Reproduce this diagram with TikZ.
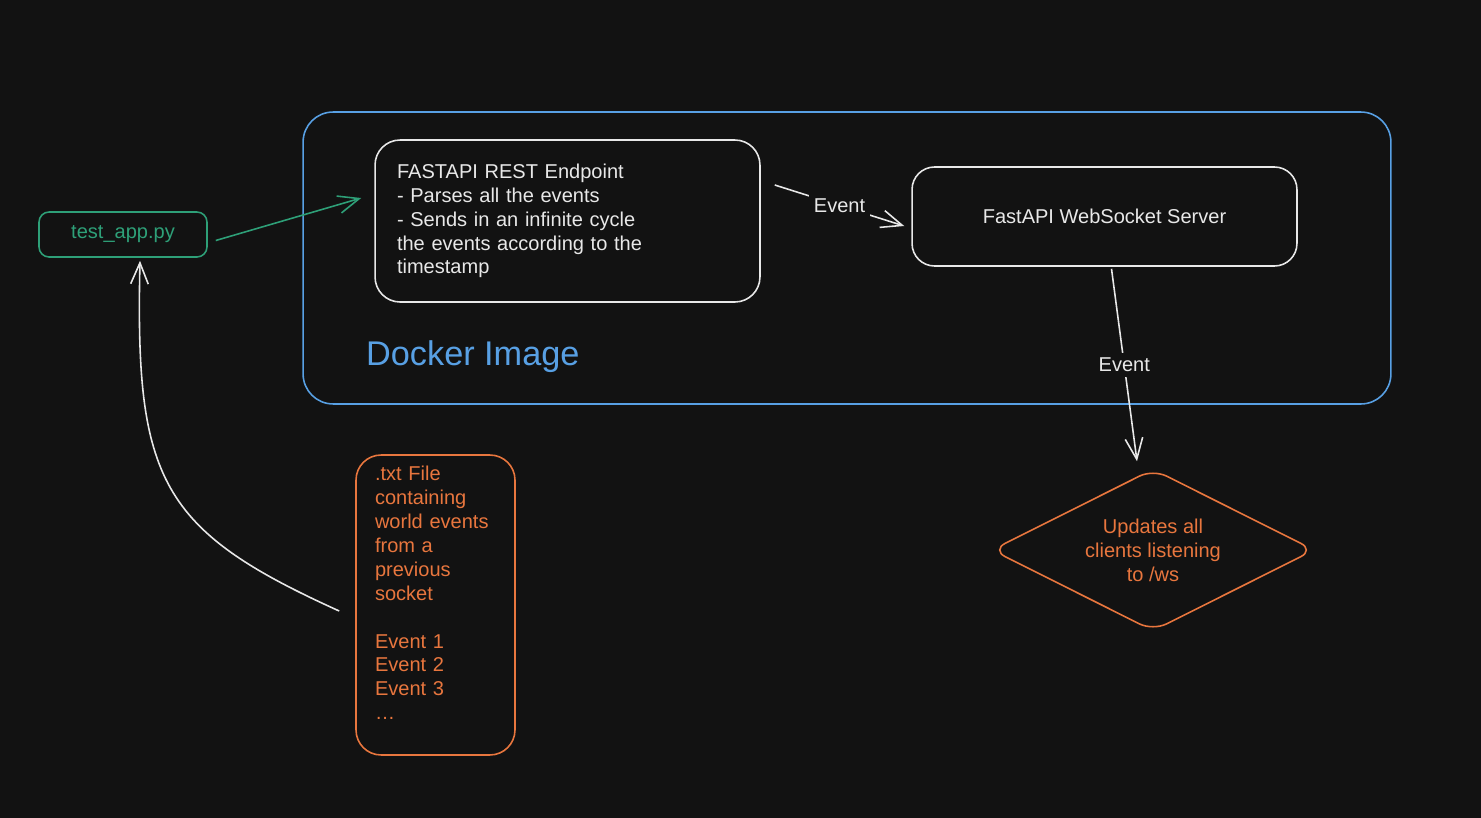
\documentclass[tikz,border=0pt]{standalone}
\usepackage{xcolor}
\usepackage{fontspec}
\setmainfont{Liberation Sans}
\usepackage{tikz}
\usetikzlibrary{positioning,calc,shapes.geometric,arrows.meta}
\definecolor{bgcol}{RGB}{18,18,18}
\definecolor{inkcol}{RGB}{232,232,232}
\definecolor{dockcol}{RGB}{88,160,228}
\definecolor{testcol}{RGB}{46,160,120}
\definecolor{filecol}{RGB}{232,118,62}

\begin{document}
\begin{tikzpicture}[x=0.02cm,y=-0.02cm,
  txt/.style={font=\fontsize{11.4}{13.6}\selectfont},
  box/.style={draw,rounded corners=0.5cm,line width=0.9pt,txt,inner sep=0pt},
  arr/.style={draw=inkcol,line width=0.9pt,-{Straight Barb[length=12pt,width=10pt]}},
  lbl/.style={txt,text=inkcol,fill=bgcol,inner sep=3pt}]
\fill[bgcol] (0,0) rectangle (1481,818);
\useasboundingbox (0,0) rectangle (1481,818);

\node[draw=dockcol,line width=0.9pt,rounded corners=0.6cm,minimum width=21.76cm,minimum height=5.84cm] (docker) at (847,258) {};
\node[anchor=west,text=dockcol,font=\fontsize{19.5}{23}\selectfont] (dockname) at (360,357) {Docker Image};

\node[box,draw=inkcol,text=inkcol,minimum width=7.7cm,minimum height=3.24cm,text width=6.82cm,align=left] (rest) at (567.5,221) {FASTAPI REST Endpoint\\- Parses all the events\\- Sends in an infinite cycle\\the events according to the\\timestamp};
\node[box,draw=inkcol,text=inkcol,rounded corners=0.45cm,minimum width=7.7cm,minimum height=1.98cm] (ws) at (1104.5,216.5) {FastAPI WebSocket Server};
\node[box,draw=testcol,text=testcol,rounded corners=0.2cm,minimum width=3.36cm,minimum height=0.9cm] (test) at (123,234.5) {test\_app.py};
\node[box,draw=filecol,text=filecol,minimum width=3.18cm,minimum height=6cm,text width=2.42cm,align=left] (file) at (435.5,605) {.txt File\\containing\\world events\\from a\\previous\\socket\\~\\Event 1\\Event 2\\Event 3\\\ldots\\~};
\node[diamond,draw=filecol,text=filecol,line width=0.9pt,txt,rounded corners=0.3cm,aspect=2,inner sep=0pt,minimum width=6.46cm,minimum height=3.24cm,align=center] (upd) at (1153,550) {Updates all\\clients listening\\to /ws};

\draw[arr,draw=testcol] ($(test.east)+(8,6)$) -- ($(rest.west)+(-13,-23)$);
\draw[arr] ($(rest.east)+(14,-36)$) -- node[lbl] {Event} ($(ws.west)+(-7,9.5)$);
\draw[arr] ($(ws.south)+(7,2)$) -- node[lbl] {Event} ($(upd.north)+(-16,-7)$);
\draw[arr] ($(file.west)+(-16,6)$) .. controls (160,530) and (135,480) .. ($(test.south)+(17,3)$);
\end{tikzpicture}
\end{document}
